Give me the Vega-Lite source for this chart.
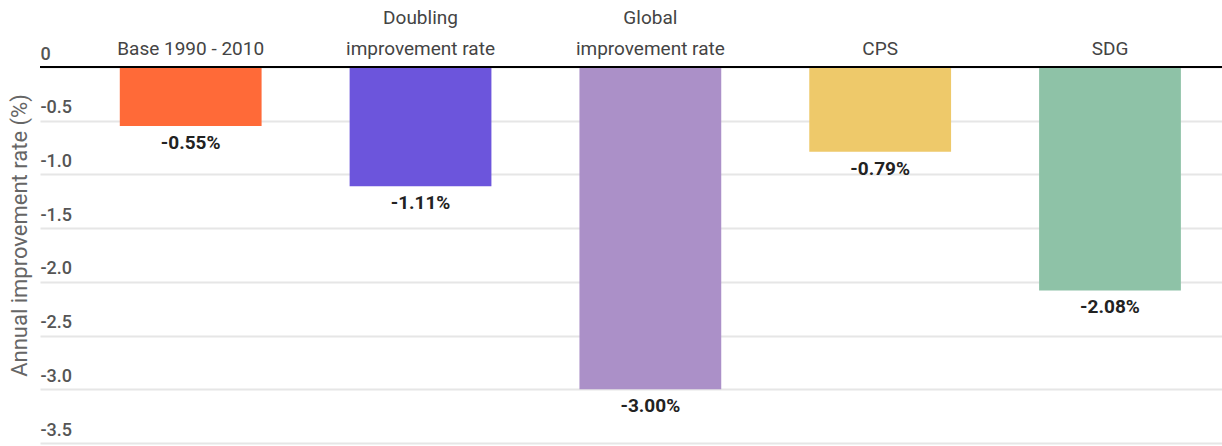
{
  "$schema": "https://vega.github.io/schema/vega-lite/v6.json",
  "width": 1182,
  "height": 376,
  "autosize": {"type": "none"},
  "padding": {"left": 40, "top": 67, "right": 0, "bottom": 3},
  "background": "white",
  "config": {
    "font": "Roboto",
    "view": {"stroke": null}
  },
  "data": {
    "values": [
      {"scenario": "Base 1990 - 2010", "rate": -0.55, "color": "#FF6A38"},
      {"scenario": "Doubling improvement rate", "rate": -1.11, "color": "#6C55DC"},
      {"scenario": "Global improvement rate", "rate": -3.00, "color": "#AB90C8"},
      {"scenario": "CPS", "rate": -0.79, "color": "#EEC96A"},
      {"scenario": "SDG", "rate": -2.08, "color": "#8EC2A7"}
    ]
  },
  "transform": [
    {"calculate": "replace(format(datum.rate, '.2f'), '\u2212', '-') + '%'", "as": "rateLabel"}
  ],
  "layer": [
    {
      "mark": {"type": "bar"},
      "encoding": {
        "x": {
          "field": "scenario",
          "type": "nominal",
          "sort": null,
          "scale": {"paddingInner": 0.383, "paddingOuter": 0.263, "align": 0.66},
          "axis": {
            "orient": "top",
            "title": null,
            "domain": false,
            "ticks": false,
            "labelAngle": 0,
            "labelPadding": 40,
            "labelFontSize": 19,
            "labelFontWeight": "normal",
            "labelColor": "#444444",
            "labelBaseline": "bottom",
            "labelLineHeight": 31,
            "labelExpr": "indexof(datum.label, ' improvement rate') > 0 ? [replace(datum.label, ' improvement rate', ''), 'improvement rate'] : ['', datum.label]"
          }
        },
        "y": {
          "field": "rate",
          "type": "quantitative",
          "scale": {"domain": [-3.5, 0], "nice": false},
          "axis": {
            "title": "Annual improvement rate (%)",
            "titleFontSize": 22,
            "titleFontWeight": "normal",
            "titleColor": "#666666",
            "titlePadding": 9,
            "titleY": 168,
            "values": [0, -0.5, -1, -1.5, -2, -2.5, -3, -3.5],
            "labelExpr": "datum.value == 0 ? '0' : replace(format(datum.value, '.1f'), '\u2212', '-')",
            "domain": false,
            "ticks": false,
            "tickSize": 0,
            "labelAlign": "left",
            "labelBaseline": "bottom",
            "labelPadding": 0,
            "labelOffset": -4,
            "labelFontSize": 18,
            "labelFontWeight": 500,
            "labelColor": "#555555",
            "grid": true,
            "gridColor": "#e6e6e6",
            "gridWidth": 2
          }
        },
        "color": {"field": "color", "type": "nominal", "scale": null}
      }
    },
    {
      "mark": {"type": "text", "baseline": "top", "dy": 8, "fontSize": 19, "fontWeight": "bold", "color": "#222222"},
      "encoding": {
        "x": {"field": "scenario", "type": "nominal", "sort": null},
        "y": {"field": "rate", "type": "quantitative"},
        "text": {"field": "rateLabel", "type": "nominal"}
      }
    },
    {
      "mark": {"type": "rule", "color": "#000000", "strokeWidth": 2},
      "encoding": {
        "y": {"datum": 0, "type": "quantitative"}
      }
    }
  ]
}
